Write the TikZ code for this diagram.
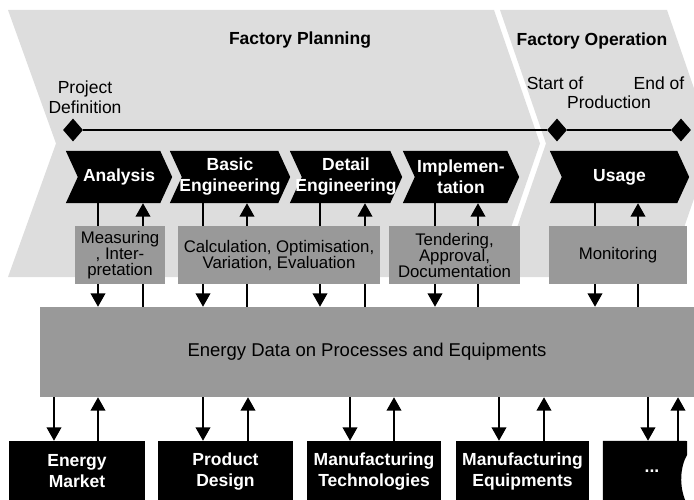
\documentclass[tikz,border=0pt]{standalone}
\usepackage{fontspec}
\setmainfont{Liberation Sans}
\usetikzlibrary{arrows.meta,shapes.geometric}
\pgfdeclarelayer{back}
\pgfdeclarelayer{mid}
\pgfsetlayers{back,mid,main}
\definecolor{lightbg}{RGB}{221,221,221}
\definecolor{midgray}{RGB}{153,153,153}
\newcommand\chevfill[1]{\fill[black] (#1.north west) -- ([xshift=-12pt]#1.north east) -- (#1.east) -- ([xshift=-12pt]#1.south east) -- (#1.south west) -- ([xshift=12pt]#1.west) -- cycle;}
\begin{document}
\begin{tikzpicture}[x=1pt,y=-1pt,
  chev/.style={minimum height=52pt, inner sep=0pt, text=white, font=\fontsize{17.5}{21}\selectfont\bfseries, align=center},
  gbox/.style={fill=midgray, minimum height=58pt, inner sep=0pt, font=\fontsize{16.8}{16}\selectfont, align=center},
  bbox/.style={fill=black, text=white, minimum height=61pt, inner sep=0pt, font=\fontsize{17.5}{21}\selectfont\bfseries, align=center},
  lab/.style={font=\fontsize{17.5}{20}\selectfont, align=center, inner sep=0pt},
  ttl/.style={font=\fontsize{17.5}{21}\selectfont\bfseries, inner sep=0pt},
  dia/.style={diamond, fill=black, minimum width=20pt, minimum height=23pt, inner sep=0pt},
  arr/.style={line width=2.4pt, -{Triangle[width=14.5pt,length=13.5pt]}},
  tl/.style={line width=1.3pt}
]
\useasboundingbox (0,0) rectangle (694,500);

% background phases
\begin{pgfonlayer}{back}
\fill[lightbg] (8,10) -- (494,10) -- (540,143.5) -- (494,277) -- (8,277) -- (56,143.5) -- cycle;
\fill[lightbg] (500,10) -- (667,10) -- (713,143.5) -- (667,277) -- (500,277) -- (546,143.5) -- cycle;
\end{pgfonlayer}

% titles
\node[ttl] (fp) at (300,40) {Factory Planning};
\node[ttl] (fo) at (592,41) {Factory Operation};
\node[lab] (pdl) at (85,97.5) {Project\\Definition};
\node[lab] (sol) at (555,83) {Start of};
\node[lab] (eol) at (659,83) {End of};
\node[lab] (prl) at (609,102) {Production};

% milestones
\node[dia] (pdm) at (73,130) {};
\node[dia] (spm) at (557,130) {};
\node[dia] (epm) at (681,130) {};
\draw[tl] (pdm.east) -- (spm.west);
\draw[tl] (spm.east) -- (epm.west);

% phases
\node[chev, minimum width=106pt] (ana) at (119,177) {Analysis};
\node[chev, minimum width=120pt] (bas) at (230,177) {Basic\\Engineering};
\node[chev, minimum width=112pt] (det) at (346,177) {Detail\\Engineering};
\node[chev, minimum width=116pt] (imp) at (461,177) {Implemen-\\tation};
\node[chev, minimum width=139pt] (use) at (619.5,177) {Usage};

% activities
\node[gbox, minimum width=90pt] (meas) at (120,255) {Measuring\\, Inter-\\pretation};
\node[gbox, minimum width=202pt] (calc) at (279,255) {Calculation, Optimisation,\\Variation, Evaluation};
\node[gbox, minimum width=131pt] (tend) at (454.5,255) {Tendering,\\Approval,\\Documentation};
\node[gbox, minimum width=138pt] (mon) at (618,255) {Monitoring};

% data
\node[fill=midgray, minimum width=654pt, minimum height=90pt, inner sep=0pt, font=\fontsize{18.5}{22}\selectfont] (data) at (367,352) {Energy Data on Processes and Equipments};

% sources
\node[bbox, minimum width=136pt] (em) at (77,471.5) {Energy\\Market};
\node[bbox, minimum width=135pt] (pd) at (225.5,471.5) {Product\\Design};
\node[bbox, minimum width=134pt] (mt) at (374,471.5) {Manufacturing\\Technologies};
\node[bbox, minimum width=133pt] (me) at (522.5,471.5) {Manufacturing\\Equipments};
\node[bbox, fill=none, minimum width=98pt] (dots) at (652,471.5) {...};

\begin{pgfonlayer}{mid}
\chevfill{ana}
\chevfill{bas}
\chevfill{det}
\chevfill{imp}
\chevfill{use}
\fill[black] (dots.north west) -- (687,441) -- (687,455) .. controls (680,467) and (679,487) .. (686,502) -- (dots.south west) -- cycle;
% phase <-> data
\draw[arr] (98,0 |- ana.south) -- (98,0 |- data.north);
\draw[arr] (143,0 |- data.north) -- (143,0 |- ana.south);
\draw[arr] (203,0 |- bas.south) -- (203,0 |- data.north);
\draw[arr] (247,0 |- data.north) -- (247,0 |- bas.south);
\draw[arr] (320,0 |- det.south) -- (320,0 |- data.north);
\draw[arr] (365,0 |- data.north) -- (365,0 |- det.south);
\draw[arr] (435,0 |- imp.south) -- (435,0 |- data.north);
\draw[arr] (478,0 |- data.north) -- (478,0 |- imp.south);
\draw[arr] (595,0 |- use.south) -- (595,0 |- data.north);
\draw[arr] (638,0 |- data.north) -- (638,0 |- use.south);
% data <-> sources
\draw[arr] (54,0 |- data.south) -- (54,0 |- em.north);
\draw[arr] (98,0 |- em.north) -- (98,0 |- data.south);
\draw[arr] (203,0 |- data.south) -- (203,0 |- pd.north);
\draw[arr] (248,0 |- pd.north) -- (248,0 |- data.south);
\draw[arr] (350,0 |- data.south) -- (350,0 |- mt.north);
\draw[arr] (394,0 |- mt.north) -- (394,0 |- data.south);
\draw[arr] (499,0 |- data.south) -- (499,0 |- me.north);
\draw[arr] (544,0 |- me.north) -- (544,0 |- data.south);
\draw[arr] (648,0 |- data.south) -- (648,0 |- dots.north);
\draw[arr] (678,0 |- dots.north) -- (678,0 |- data.south);
\end{pgfonlayer}
\end{tikzpicture}
\end{document}
